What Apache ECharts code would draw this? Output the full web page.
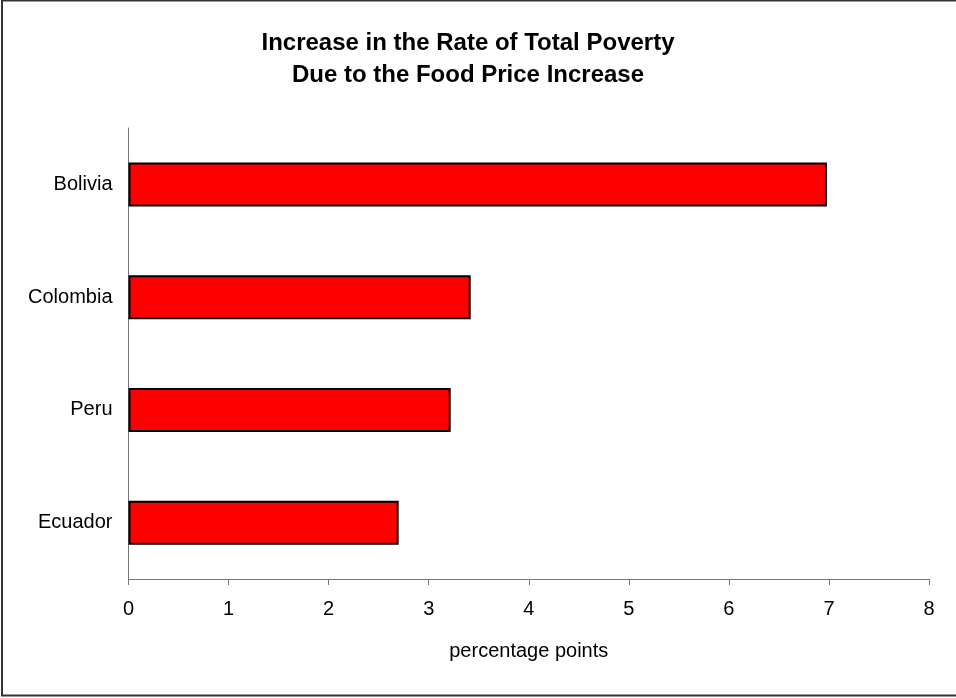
<!DOCTYPE html>
<html><head><meta charset="utf-8">
<script src="https://cdn.jsdelivr.net/npm/echarts@6/dist/echarts.min.js"></script>
<style>html,body{margin:0;padding:0;background:#fff}#c{width:956px;height:698px}</style>
</head><body><div id="c"></div>
<script>
const categories = ['Bolivia', 'Colombia', 'Peru', 'Ecuador'];
const values = [6.98, 3.42, 3.22, 2.70];
const xTicks = [0, 1, 2, 3, 4, 5, 6, 7, 8];
const titleLines = ['Increase in the Rate of Total Poverty', 'Due to the Food Price Increase'];
const axisTitle = 'percentage points';

const chart = echarts.init(document.getElementById('c'), null, {renderer: 'canvas'});
const font = 'Liberation Sans, Arial, sans-serif';
chart.setOption({
  animation: false,
  backgroundColor: '#fff',
  title: {
    text: titleLines.join('\n'),
    left: 463, top: 22, textAlign: 'center',
    textStyle: {fontFamily: font, fontSize: 24, fontWeight: 'bold', color: '#000', lineHeight: 32}
  },
  graphic: [{
    type: 'rect', shape: {x: 2, y: 0.5, width: 980, height: 695},
    style: {fill: null, stroke: '#333', lineWidth: 2}, silent: true
  }],
  grid: {left: 128.5, right: 27, top: 128, bottom: 119, containLabel: false},
  xAxis: {
    type: 'value', min: 0, max: xTicks[xTicks.length - 1], interval: 1,
    name: axisTitle, nameLocation: 'middle', nameGap: 62,
    nameTextStyle: {fontFamily: font, fontSize: 20, color: '#000'},
    axisLine: {show: true, lineStyle: {color: '#777', width: 1}},
    axisTick: {show: true, length: 6, lineStyle: {color: '#777'}},
    axisLabel: {fontFamily: font, fontSize: 20, color: '#000', margin: 20},
    splitLine: {show: false}
  },
  yAxis: {
    type: 'category', data: categories, inverse: true,
    axisLine: {show: true, lineStyle: {color: '#777', width: 1}},
    axisTick: {show: false},
    axisLabel: {fontFamily: font, fontSize: 20, color: '#000', margin: 16}
  },
  series: [{
    type: 'bar', data: values, barWidth: 44,
    itemStyle: {color: '#ff0000', borderColor: '#000', borderWidth: 2}
  }]
});
</script></body></html>
